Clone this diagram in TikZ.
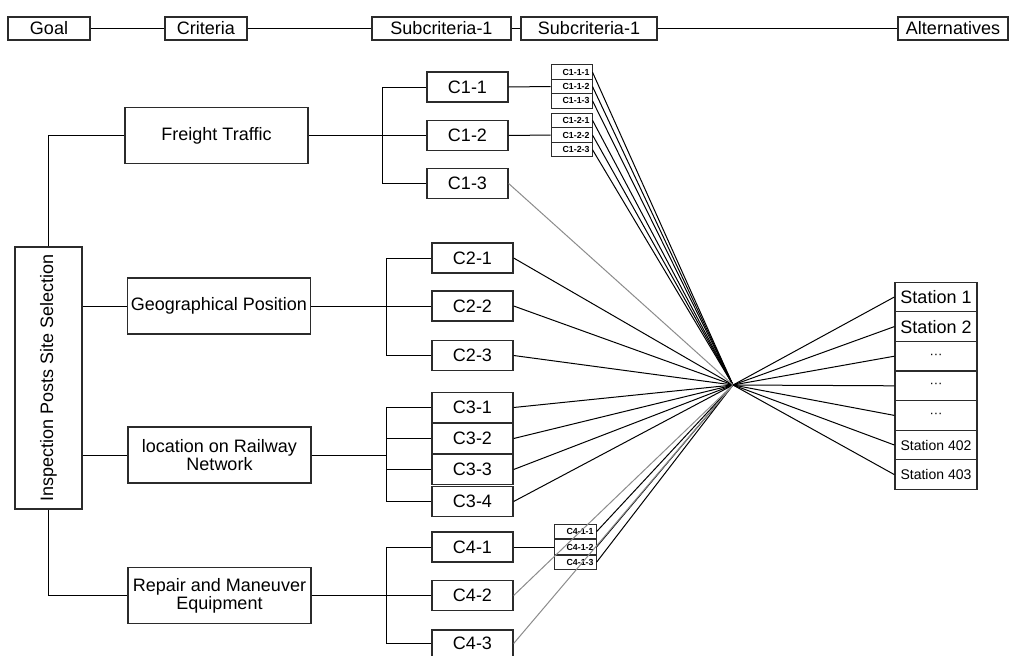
\documentclass[tikz,border=0pt]{standalone}
\usepackage{fontspec}
\setmainfont{Liberation Sans}
\usepackage{graphicx}
\usetikzlibrary{calc}
\definecolor{kutuCizgi}{HTML}{2B2B2B}
\definecolor{acikGri}{HTML}{8C8C8C}

\begin{document}
\begin{tikzpicture}[x=1pt,y=-1pt,
  box/.style={draw=kutuCizgi,line width=1.3pt,fill=white,inner sep=1pt,align=center,font=\fontsize{18}{18}\selectfont},
  headbox/.style={box,minimum height=23},
  critbox/.style={box,minimum width=183,minimum height=56},
  subbox/.style={box,minimum width=81,minimum height=30},
  leafbox/.style={box,line width=1pt,minimum height=14.5,text width=36,align=right,inner xsep=2.5pt,inner ysep=0pt,font=\fontsize{8.8}{9}\selectfont\bfseries},
  stbox/.style={box,minimum width=82,minimum height=29.6},
  conn/.style={line width=1pt,black},
  faint/.style={line width=1pt,acikGri}]
\fill[white] (0,0) rectangle (1010,656);
\useasboundingbox (0,0) rectangle (1010,656);

\node[headbox,minimum width=82] (hGoal) at (49,28.5) {Goal};
\node[headbox,minimum width=82] (hCrit) at (206,28.5) {Criteria};
\node[headbox,minimum width=139] (hSub1) at (441.5,28.5) {Subcriteria-1};
\node[headbox,minimum width=136] (hSub2) at (589,28.5) {Subcriteria-1};
\node[headbox,minimum width=110] (hAlt) at (953,28.5) {Alternatives};
\draw[conn] (hGoal) -- (hCrit) -- (hSub1) -- (hSub2) -- (hAlt);

\node[box,minimum width=67,minimum height=262] (goal) at (48.5,378) {\rotatebox{90}{Inspection Posts Site Selection}};

\node[critbox] (crit1) at (216.5,135.5) {Freight Traffic};
\node[critbox] (crit2) at (219,306) {Geographical Position};
\node[critbox] (crit3) at (219.5,455) {location on Railway\\Network};
\node[critbox] (crit4) at (219.5,595.5) {Repair and Maneuver\\Equipment};
\draw[conn] (goal.north) |- (crit1.west);
\draw[conn] (goal.south) |- (crit4.west);
\draw[conn] (goal.east |- crit2.west) -- (crit2.west);
\draw[conn] (goal.east |- crit3.west) -- (crit3.west);

\node[subbox,minimum width=81] (c11) at (467.5,87) {C1-1};
\node[subbox,minimum width=81] (c12) at (467.5,135.5) {C1-2};
\node[subbox,minimum width=81] (c13) at (467.5,183.5) {C1-3};
\node[subbox] (c21) at (472.5,258) {C2-1};
\node[subbox] (c22) at (472.5,306) {C2-2};
\node[subbox] (c23) at (472.5,355.5) {C2-3};
\node[subbox] (c31) at (472.5,407.5) {C3-1};
\node[subbox] (c32) at (472.5,438.5) {C3-2};
\node[subbox] (c33) at (472.5,469.5) {C3-3};
\node[subbox] (c34) at (472.5,501.5) {C3-4};
\node[subbox] (c41) at (472.5,547) {C4-1};
\node[subbox] (c42) at (472.5,595.5) {C4-2};
\node[subbox,minimum height=27] (c43) at (472.5,643.5) {C4-3};

\coordinate (b1) at (382,0);
\coordinate (b2) at (386,0);
\draw[conn] (crit1.east) -- (c12.west);
\draw[conn] (c11.west) -| (b1 |- c13.west) -- (c13.west);
\draw[conn] (crit2.east) -- (c22.west);
\draw[conn] (c21.west) -| (b2 |- c23.west) -- (c23.west);
\draw[conn] (crit3.east) -- (b2 |- crit3.east);
\draw[conn] (c31.west) -| (b2 |- c34.west) -- (c34.west);
\draw[conn] (b2 |- c32.west) -- (c32.west);
\draw[conn] (b2 |- c33.west) -- (c33.west);
\draw[conn] (crit4.east) -- (c42.west);
\draw[conn] (c41.west) -| (b2 |- c43.west) -- (c43.west);

\node[leafbox] (c111) at (571.5,72.2) {C1-1-1};
\node[leafbox] (c112) at (571.5,86.5) {C1-1-2};
\node[leafbox] (c113) at (571.5,100.8) {C1-1-3};
\node[leafbox] (c121) at (571.5,120.3) {C1-2-1};
\node[leafbox] (c122) at (571.5,135) {C1-2-2};
\node[leafbox] (c123) at (571.5,149.7) {C1-2-3};
\node[leafbox,text width=37] (c411) at (575,531.7) {C4-1-1};
\node[leafbox,text width=37] (c412) at (575,547) {C4-1-2};
\node[leafbox,text width=37] (c413) at (575,562.3) {C4-1-3};
\draw[conn] (c11.east) -- (c112.west);
\draw[conn] (c12.east) -- (c122.west);
\draw[conn] (c41.east) -- (c412.west);

\node[stbox] (st1) at (936,297) {Station 1};
\node[stbox] (st2) at (936,326.6) {Station 2};
\node[stbox] (st3) at (936,356.2) {\fontsize{13}{13}\selectfont ···};
\node[stbox] (st4) at (936,385.8) {\fontsize{13}{13}\selectfont ···};
\node[stbox] (st5) at (936,415.4) {\fontsize{13}{13}\selectfont ···};
\node[stbox] (st6) at (936,445) {\fontsize{14}{14}\selectfont Station 402};
\node[stbox] (st7) at (936,474.6) {\fontsize{14}{14}\selectfont Station 403};

\coordinate (hub) at (733,385);
\foreach \n in {c111,c112,c113,c121,c122,c123,c21,c22,c23,c31,c32,c33,c34,c411,c412,c413}
  \draw[conn] (\n.east) -- (hub);
\foreach \n in {c13,c42,c43}
  \draw[faint] (\n.east) -- (hub);
\foreach \i in {1,...,7}
  \draw[conn] (hub) -- (st\i.west);
\end{tikzpicture}
\end{document}
